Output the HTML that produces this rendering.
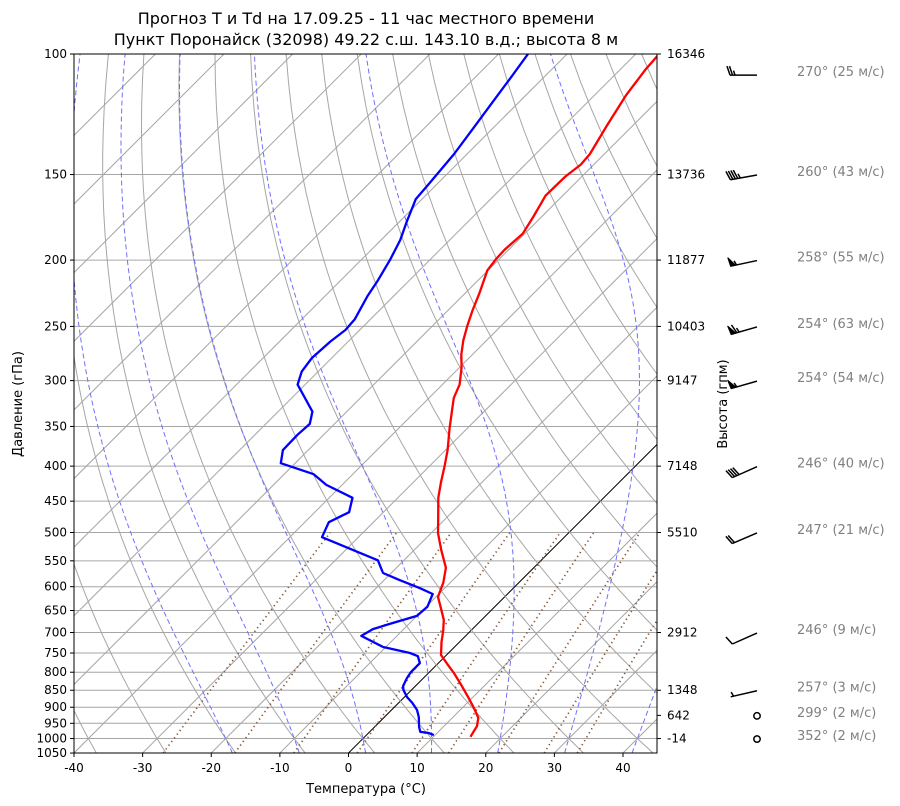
<!DOCTYPE html>
<html><head><meta charset="utf-8"><style>
body{margin:0;background:#fff;}
svg{display:block;font-family:"DejaVu Sans","Liberation Sans",sans-serif;}
</style></head><body>
<svg id="chart" width="900" height="806" viewBox="0 0 900 806" xmlns="http://www.w3.org/2000/svg">
<defs><clipPath id="plotclip"><rect x="74" y="54" width="583" height="699"/></clipPath></defs>
<text x="366" y="24" font-size="16" text-anchor="middle">Прогноз T и Td на 17.09.25 - 11 час местного времени</text>
<text x="366" y="45" font-size="16" text-anchor="middle">Пункт Поронайск (32098) 49.22 с.ш. 143.10 в.д.; высота 8 м</text>
<g id="grid" clip-path="url(#plotclip)"></g>
<g id="profiles" clip-path="url(#plotclip)"></g>
<rect x="74" y="54" width="583" height="699" fill="none" stroke="#000" stroke-width="1"/>
<g id="axes" font-size="12"></g>
<text transform="translate(22,404) rotate(-90)" font-size="13" text-anchor="middle">Давление (гПа)</text>
<text x="366" y="793" font-size="13" text-anchor="middle">Температура (°C)</text>
<text transform="translate(727,404) rotate(-90)" font-size="13" text-anchor="middle">Высота (гпм)</text>
<g id="winds"></g>
</svg>
<script>
const tempP=[994,959,933,902,870,835,802,778,755,723,696,671,643,621,592,563,530,501,476,445,422,400,379,352,331,318,304,287,275,262,249,237,223,207,199,193,183,173,161,151,145,140,127,115,105.5,100];
const tempT=[15.4,14.8,13.8,11.7,9.3,6.5,3.7,1.4,-0.8,-2.6,-4.0,-5.5,-7.8,-9.7,-11.0,-12.8,-16.1,-19.0,-21.2,-24.1,-26.0,-27.8,-29.7,-32.6,-34.9,-36.4,-37.5,-39.7,-41.6,-43.4,-45.0,-46.4,-48.0,-50.1,-50.5,-50.6,-50.3,-51.2,-52.5,-52.4,-51.9,-52.1,-53.8,-55.4,-56.3,-56.6];
const dewP=[988,981,978,962,930,908,887,870,849,838,816,800,786,776,758,750,735,708,692,678,662,642,615,603,587,573,549,508,483,467,445,426,411,396,379,360,347,333,304,291,278,263,253,244,226,214,200,187,176,163,155,140,129,118,108,100];
const dewT=[9.8,8.7,7.4,6.5,5.0,3.7,2.0,0.4,-1.2,-1.8,-2.4,-2.7,-2.7,-2.7,-4.0,-5.6,-10.4,-15.2,-14.5,-12.5,-10.0,-9.8,-10.9,-13.6,-17.7,-21.2,-23.8,-35.3,-36.5,-35.0,-36.6,-42.3,-45.7,-52.1,-53.7,-53.8,-53.6,-55.0,-61.1,-62.4,-62.9,-62.6,-62.1,-62.3,-63.8,-64.6,-65.8,-67.2,-68.9,-70.9,-71.2,-71.9,-72.8,-73.8,-74.8,-75.7];
const pressureTicks=[100,150,200,250,300,350,400,450,500,550,600,650,700,750,800,850,900,950,1000,1050];
const tempTicks=[-40,-30,-20,-10,0,10,20,30,40];
const heightP=[100,150,200,250,300,400,500,700,850,925,1000];
const heightLabels=["16346","13736","11877","10403","9147","7148","5510","2912","1348","642","-14"];
const windP=[107,150,200,250,300,400,500,700,850,925,1000];
const windDir=[270,260,258,254,254,246,247,246,257,299,352];
const windSpd=[25,43,55,63,54,40,21,9,3,2,2];
const dryT0=[-40,-30,-20,-10,0,10,20,30,40,50,60,70,80,90,100,110,120,130,140,150,160,170,180,190,200,210,220,230,240,250];
const moistT0=[-20,-10,0,10,20,30,40];
const mixW=[0.0004,0.001,0.002,0.004,0.007,0.01,0.016,0.024,0.032];

const NS="http://www.w3.org/2000/svg";
function yP(p){return 54+297.3*Math.log(p/100);}
function xT(T,p){return 348.5+6.8625*T+(753-yP(p));}
function mk(tag,attrs,parent){const e=document.createElementNS(NS,tag);for(const k in attrs)e.setAttribute(k,attrs[k]);parent.appendChild(e);return e;}
const grid=document.getElementById('grid'),prof=document.getElementById('profiles'),axes=document.getElementById('axes'),winds=document.getElementById('winds');
function poly(pts,attrs,parent){return mk('polyline',Object.assign({points:pts.map(q=>q[0].toFixed(1)+','+q[1].toFixed(1)).join(' '),fill:'none'},attrs),parent);}

pressureTicks.forEach(p=>{const l=mk('line',{x1:74,x2:657,y1:yP(p),y2:yP(p),stroke:'#a6a6a6','stroke-width':1},grid);

});
for(let T=-130;T<=50;T+=10){const l=mk('line',{x1:xT(T,1050),y1:yP(1050),x2:xT(T,100),y2:yP(100),stroke:T===0?'#000':'#a6a6a6','stroke-width':1},grid);

}
dryT0.forEach(t0=>{const pts=[];for(let p=1050;p>=100;p-=10){const T=(t0+273.15)*Math.pow(p/1000,0.2857)-273.15;pts.push([xT(T,p),yP(p)]);}
const e=poly(pts,{stroke:'#a6a6a6','stroke-width':1},grid);

});
function dTdp(p,T){const es=6.112*Math.exp(17.67*(T-273.15)/(T-29.65));const rs=0.622*es/(p-es);const Lv=2.501e6;return (287*T+Lv*rs)/(1005+Lv*Lv*rs*0.622/(287*T*T))/p;}
function integ(T0,p0,p1,step){const out=[[p0,T0]];let T=T0,p=p0;while((step<0&&p>p1)||(step>0&&p<p1)){const k1=dTdp(p,T);const k2=dTdp(p+step/2,T+k1*step/2);T+=k2*step;p+=step;out.push([p,T]);}return out;}
moistT0.forEach(t0=>{const up=integ(t0+273.15,1000,100,-2),dn=integ(t0+273.15,1000,1050,2);const all=dn.reverse().concat(up.slice(1));
const e=poly(all.map(a=>[xT(a[1]-273.15,a[0]),yP(a[0])]),{stroke:'#6f6fff','stroke-width':1,'stroke-dasharray':'5,3'},grid);

});
mixW.forEach(w=>{const pts=[];for(let p=1050;p>=500;p-=10){const e=w*p/(0.622+w);const l=Math.log(e/6.112);const Td=243.5*l/(17.67-l);pts.push([xT(Td,p),yP(p)]);}
const e=poly(pts,{stroke:'#8a5a3a','stroke-width':1.7,'stroke-dasharray':'1.3,3.3'},grid);

});
const tl=poly(tempP.map((p,i)=>[xT(tempT[i],p),yP(p)]),{stroke:'#ff0000','stroke-width':2.3,'stroke-linejoin':'round'},prof);


const dl=poly(dewP.map((p,i)=>[xT(dewT[i],p),yP(p)]),{stroke:'#0000ff','stroke-width':2.3,'stroke-linejoin':'round'},prof);


pressureTicks.forEach(p=>{const y=yP(p);mk('line',{x1:70,x2:74,y1:y,y2:y,stroke:'#000'},axes);
const t=mk('text',{x:67,y:y+4,'text-anchor':'end'},axes);t.textContent=p;

});
tempTicks.forEach(T=>{const x=348.5+6.8625*T;mk('line',{x1:x,x2:x,y1:753,y2:757,stroke:'#000'},axes);
const t=mk('text',{x:x,y:772,'text-anchor':'middle'},axes);t.textContent=T;

});
heightP.forEach((p,i)=>{const y=yP(p);mk('line',{x1:657,x2:661,y1:y,y2:y,stroke:'#000'},axes);
const t=mk('text',{x:667,y:y+4},axes);t.textContent=heightLabels[i];

});
windP.forEach((p,i)=>{const y=yP(p)+(p===107?0:-0.5)+1;const x0=757;const d=windDir[i]*Math.PI/180;const spd=windSpd[i];
const g=mk('g',{},winds);


if(spd<2.5){mk('circle',{cx:x0,cy:y,r:3.2,fill:'none',stroke:'#000','stroke-width':1.5},g);}
else{const ux=Math.sin(d),uy=-Math.cos(d);const L=27;const tx=x0+ux*L,ty=y+uy*L;
mk('line',{x1:x0,y1:y,x2:tx,y2:ty,stroke:'#000','stroke-width':1.5},g);
const px=-uy,py=ux;let r=Math.round(spd/5)*5;let s=0;const bl=9;
const flags=Math.floor(r/50);r-=flags*50;const full=Math.floor(r/10);r-=full*10;const half=r>=5?1:0;
for(let f=0;f<flags;f++){const ax=tx-ux*s,ay=ty-uy*s,bx=tx-ux*(s+5),by=ty-uy*(s+5);
mk('polygon',{points:ax+','+ay+' '+(ax+px*bl+ux*1)+','+(ay+py*bl+uy*1)+' '+bx+','+by,fill:'#000',stroke:'#000','stroke-width':1},g);s+=6;}
for(let f=0;f<full;f++){const ax=tx-ux*s,ay=ty-uy*s;mk('line',{x1:ax,y1:ay,x2:ax+px*bl+ux*3,y2:ay+py*bl+uy*3,stroke:'#000','stroke-width':1.5},g);s+=2.5;}
if(half){if(s===0)s=3;const ax=tx-ux*s,ay=ty-uy*s;mk('line',{x1:ax,y1:ay,x2:ax+px*bl/2+ux*1.5,y2:ay+py*bl/2+uy*1.5,stroke:'#000','stroke-width':1.5},g);}}
const t=mk('text',{x:797,y:y+1,'font-size':13,fill:'#808080'},winds);t.textContent=windDir[i]+'° ('+spd+' м/с)';

});
</script>
</body></html>
